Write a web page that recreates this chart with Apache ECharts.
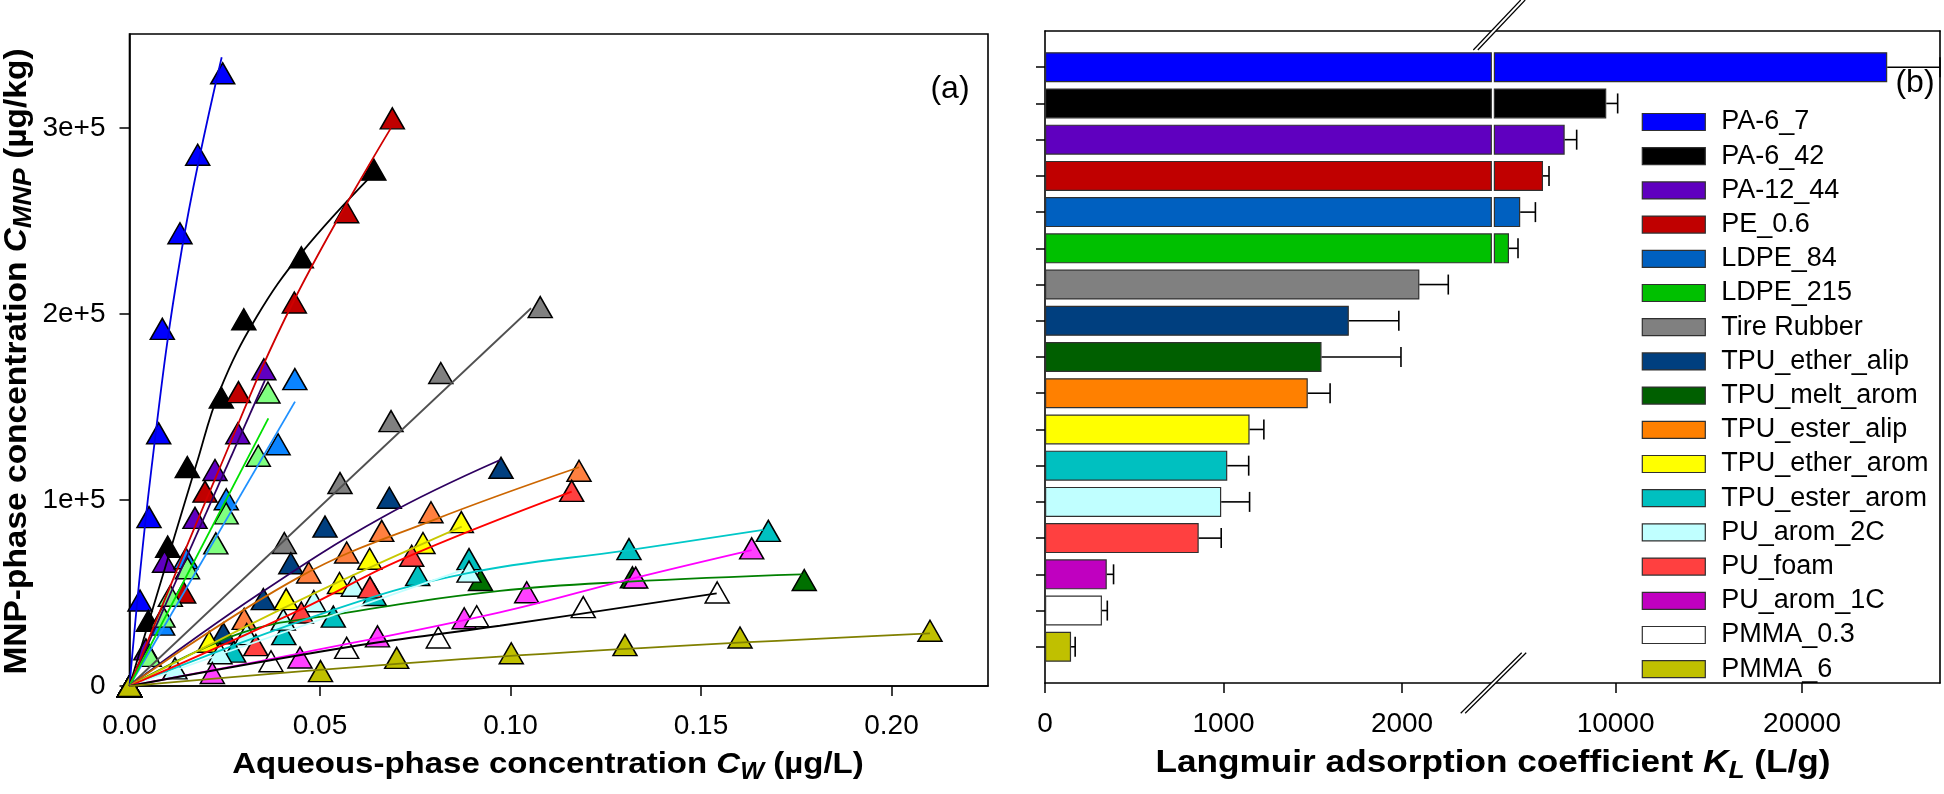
<!DOCTYPE html>
<html>
<head>
<meta charset="utf-8">
<script src="https://cdn.jsdelivr.net/npm/echarts@6/dist/echarts.min.js"></script>
<style>html,body{margin:0;padding:0;background:#fff}#c{width:1944px;height:794px}</style>
</head>
<body>
<div id="c"></div>
<script>
const FONT = '"Liberation Sans", Arial, Helvetica, sans-serif';

// ---------------- DATA ----------------
const materials = ['PA-6_7','PA-6_42','PA-12_44','PE_0.6','LDPE_84','LDPE_215','Tire Rubber','TPU_ether_alip','TPU_melt_arom','TPU_ester_alip','TPU_ether_arom','TPU_ester_arom','PU_arom_2C','PU_foam','PU_arom_1C','PMMA_0.3','PMMA_6'];

// Panel (a): measured isotherm points [Cw (µg/L), C_MNP (µg/kg)]
const data_PA6_7 = [[0,0],[0.00276,45970],[0.00512,90770],[0.00766,135800],[0.00861,192000],[0.01325,243400],[0.0179,285600],[0.02446,329400]];
const data_PA6_42 = [[0,0],[0.00494,35050],[0.01002,74900],[0.01517,117700],[0.0241,155100],[0.0300,197200],[0.0451,230500],[0.06412,277600]];
const data_PA12_44 = [[0,0],[0.0043,19700],[0.00919,66800],[0.01719,90400],[0.02244,116100],[0.02843,135900],[0.03526,170300]];
const data_PE06 = [[0,0],[0.01422,50270],[0.01982,104500],[0.0286,158000],[0.04326,206200],[0.0570,254700],[0.06898,305200]];
const data_LDPE84 = [[0,0],[0.0087,33000],[0.0148,68700],[0.0254,100400],[0.039,130000],[0.0434,165000]];
const data_LDPE215 = [[0,0],[0.00517,16200],[0.00879,37300],[0.01072,48500],[0.01522,63300],[0.02266,76700],[0.02537,92800],[0.0338,123800],[0.03634,157800]];
const data_Tire = [[0,0],[0.04063,76900],[0.05525,109100],[0.06864,142400],[0.0817,168300],[0.1078,203700]];
const data_TPU_ether_alip = [[0,0],[0.02462,28300],[0.03512,46700],[0.04234,66000],[0.05131,85700],[0.06819,101200],[0.09751,117300]];
const data_TPU_melt_arom = [[0,0],[0.09213,57000],[0.132,58400],[0.1771,57000]];
const data_TPU_ester_alip = [[0,0],[0.0301,36100],[0.04703,61000],[0.057,71800],[0.0662,83400],[0.07913,93400],[0.11798,115700]];
const data_TPU_ether_arom = [[0,0],[0.02091,23800],[0.04112,46700],[0.05512,55400],[0.06304,68400],[0.07703,76900],[0.08709,88100]];
const data_TPU_ester_arom = [[0,0],[0.02735,18500],[0.0405,27900],[0.05349,37300],[0.06425,48900],[0.07564,59700],[0.08911,68200],[0.1311,73600],[0.16767,83400]];
const data_PU_arom_2C = [[0,0],[0.01194,9500],[0.02375,17600],[0.03076,27900],[0.04037,35700],[0.04838,45600],[0.05874,53900],[0.08911,61500]];
const data_PU_foam = [[0,0],[0.03316,22000],[0.04509,39500],[0.06312,53000],[0.07407,70000],[0.11606,104900]];
const data_PU_arom_1C = [[0,0],[0.02174,7000],[0.04475,15300],[0.06509,26700],[0.08785,36400],[0.10425,50400],[0.13286,58300],[0.1633,74000]];
const data_PMMA_03 = [[0,0],[0.03714,13300],[0.057,20500],[0.08105,26100],[0.09113,37500],[0.1191,42400],[0.15425,50300]];
const data_PMMA_6 = [[0,0],[0.05013,8000],[0.07013,15100],[0.1002,17600],[0.13005,22000],[0.16024,26100],[0.2101,29700]];

// Panel (a): fitted Langmuir curves
const fit_PA6_7 = [[0,0],[0.00556,113400],[0.0137,234400],[0.0242,338000]];
const fit_PA6_42 = [[0,0],[0.01763,119700],[0.02375,159100],[0.03338,198500],[0.0452,233000],[0.06365,274700]];
const fit_PA12_44 = [[0,0],[0.03556,164500]];
const fit_PE06 = [[0,0],[0.02289,113400],[0.043,206600],[0.06856,299800]];
const fit_LDPE84 = [[0,0],[0.04344,152900]];
const fit_LDPE215 = [[0,0],[0.03644,143900]];
const fit_Tire = [[0,0],[0.1054,203100]];
const fit_TPU_ether_alip = [[0,0],[0.03425,49800],[0.06662,91000],[0.09724,121500]];
const fit_TPU_melt_arom = [[0,0],[0.029,28300],[0.0535,38200],[0.0972,51100],[0.1311,56100],[0.17643,60000]];
const fit_TPU_ester_alip = [[0,0],[0.04475,58800],[0.07974,89200],[0.11798,117600]];
const fit_TPU_ether_arom = [[0,0],[0.04475,46200],[0.0872,85700]];
const fit_TPU_ester_arom = [[0,0],[0.0535,40900],[0.0885,60600],[0.1311,73100],[0.16635,83900]];
const fit_PU_arom_2C = [[0,0],[0.0876,62400]];
const fit_PU_foam = [[0,0],[0.04475,40900],[0.071,67700],[0.11606,104500]];
const fit_PU_arom_1C = [[0,0],[0.04475,17600],[0.0972,39600],[0.1322,57900],[0.1633,73100]];
const fit_PMMA_03 = [[0,0],[0.05787,21100],[0.0972,32400],[0.15412,49800]];
const fit_PMMA_6 = [[0,0],[0.0972,15800],[0.2101,28300]];

// Panel (b): Langmuir adsorption coefficient K_L (L/g) and its error
const klValues = [24570, 9500, 7270, 6107, 4884, 4283, 2097, 1702, 1549, 1472, 1146, 1021, 987, 861, 346, 319, 146];
const klErrors = [2830, 611, 643, 322, 815, 483, 162, 280, 445, 125, 80, 120, 159, 126, 38, 30, 23];

// tick values
const xTicksA = [0, 0.05, 0.10, 0.15, 0.20];
const yTicksA = [0, 100000, 200000, 300000];
const xTicksLow = [0, 1000, 2000];
const xTicksHigh = [10000, 20000];

// ---------------- STYLES ----------------
const markerColors = ['#0000FF','#000000','#6000C0','#C00000','#0A84FF','#80FF80','#808080','#003F7F','#007000','#FF8040','#FFFF00','#00C0C0','#C0FFFF','#FF4040','#FF40FF','#FFFFFF','#C0C000'];
const lineColors = ['#0000E0','#000000','#2E0060','#D00000','#1E90FF','#00E000','#505050','#2E0060','#008000','#CC6600','#C8C800','#00C8C8','#C0FFFF','#FF0000','#FF00FF','#000000','#808000'];
const barColors = ['#0000FF','#000000','#5F00BF','#C00000','#0060C0','#00C000','#808080','#003F7F','#005F00','#FF8000','#FFFF00','#00C0C0','#C0FFFF','#FF4040','#C000C0','#FFFFFF','#C0C000'];

const isoData = [data_PA6_7,data_PA6_42,data_PA12_44,data_PE06,data_LDPE84,data_LDPE215,data_Tire,data_TPU_ether_alip,data_TPU_melt_arom,data_TPU_ester_alip,data_TPU_ether_arom,data_TPU_ester_arom,data_PU_arom_2C,data_PU_foam,data_PU_arom_1C,data_PMMA_03,data_PMMA_6];
const fitData = [fit_PA6_7,fit_PA6_42,fit_PA12_44,fit_PE06,fit_LDPE84,fit_LDPE215,fit_Tire,fit_TPU_ether_alip,fit_TPU_melt_arom,fit_TPU_ester_alip,fit_TPU_ether_arom,fit_TPU_ester_arom,fit_PU_arom_2C,fit_PU_foam,fit_PU_arom_1C,fit_PMMA_03,fit_PMMA_6];

const LOW_MAX = 2500, HIGH_MIN = 3500, HIGH_MAX = 27400;
const cats = [''].concat(materials, ['']);

const series = [];
materials.forEach((m, i) => {
  series.push({
    type: 'scatter', name: m + ' data', xAxisIndex: 0, yAxisIndex: 0,
    data: isoData[i], symbol: 'triangle', symbolSize: [24, 21],
    itemStyle: { color: markerColors[i], borderColor: '#000', borderWidth: 1.5, opacity: 1 },
    emphasis: { disabled: true }, silent: true
  });
  series.push({
    type: 'line', name: m + ' fit', xAxisIndex: 0, yAxisIndex: 0,
    data: fitData[i], smooth: 0.4, showSymbol: false, symbol: 'none',
    lineStyle: { color: lineColors[i], width: 1.8 }, emphasis: { disabled: true }, silent: true
  });
});

materials.forEach((m, i) => {
  const arr = cats.map((c, k) => (k === i + 1 ? klValues[i] : '-'));
  const common = {
    type: 'bar', name: m, data: arr, barWidth: 30, barGap: '-100%', clip: true,
    itemStyle: { color: barColors[i], borderColor: '#303030', borderWidth: 1.2 },
    emphasis: { disabled: true }, silent: true
  };
  series.push(Object.assign({ xAxisIndex: 1, yAxisIndex: 1 }, common));
  if (klValues[i] > HIGH_MIN) series.push(Object.assign({ xAxisIndex: 3, yAxisIndex: 2 }, common));
});

const errLow = [], errHigh = [];
materials.forEach((m, i) => {
  const d = [klValues[i], klErrors[i], i + 1];
  if (klValues[i] + klErrors[i] <= LOW_MAX) errLow.push(d); else errHigh.push(d);
});
function renderErr(params, api) {
  const v = api.value(0), e = api.value(1), yi = api.value(2);
  const p0 = api.coord([v, yi]), p1 = api.coord([v + e, yi]);
  return { type: 'group', children: [
    { type: 'line', shape: { x1: p0[0], y1: p0[1], x2: p1[0], y2: p1[1] }, style: { stroke: '#000', lineWidth: 1.6 } },
    { type: 'line', shape: { x1: p1[0], y1: p1[1] - 10, x2: p1[0], y2: p1[1] + 10 }, style: { stroke: '#000', lineWidth: 1.6 } }
  ]};
}
series.push({ type: 'custom', name: 'err-low', xAxisIndex: 1, yAxisIndex: 1, data: errLow, encode: { x: 0, y: 2 }, renderItem: renderErr, z: 5, silent: true });
series.push({ type: 'custom', name: 'err-high', xAxisIndex: 3, yAxisIndex: 2, data: errHigh, encode: { x: 0, y: 2 }, renderItem: renderErr, z: 5, silent: true });

const axLine = { show: true, onZero: false, lineStyle: { color: '#000', width: 1.6 } };
const tickStyle = { color: '#000', width: 1.5 };
const lblStyle = { color: '#000', fontFamily: FONT, fontSize: 28 };
const plain = v => String(v);

function richTitle(size, subSize) {
  return {
    n: { fontSize: size, fontWeight: 'bold', fontFamily: FONT, lineHeight: size + 4, verticalAlign: 'top', fill: '#000', color: '#000' },
    i: { fontSize: size, fontWeight: 'bold', fontStyle: 'italic', fontFamily: FONT, lineHeight: size + 4, verticalAlign: 'top', fill: '#000', color: '#000' },
    s: { fontSize: subSize, fontWeight: 'bold', fontStyle: 'italic', fontFamily: FONT, lineHeight: subSize - 2, verticalAlign: 'bottom', fill: '#000', color: '#000' }
  };
}
function txt(x, y, text, rich, opts) {
  return Object.assign({
    type: 'text', x: x, y: y, z: 50, silent: true,
    style: { x: 0, y: 0, text: text, rich: rich, fill: '#000', align: 'center', verticalAlign: 'middle', textAlign: 'center', textVerticalAlign: 'middle' }
  }, opts || {});
}
function slash(x0, y0, x1, y1, off) {
  return [
    { type: 'polygon', z: 60, silent: true, shape: { points: [[x0, y0], [x1, y1], [x1 + off, y1], [x0 + off, y0]] }, style: { fill: '#fff', stroke: null } },
    { type: 'line', z: 61, silent: true, shape: { x1: x0, y1: y0, x2: x1, y2: y1 }, style: { stroke: '#000', lineWidth: 1.2 } },
    { type: 'line', z: 61, silent: true, shape: { x1: x0 + off, y1: y0, x2: x1 + off, y2: y1 }, style: { stroke: '#000', lineWidth: 1.2 } }
  ];
}
const plainRich = { n: { fontSize: 32, fontFamily: FONT, fill: '#000', color: '#000' } };

const option = {
  animation: false,
  backgroundColor: '#fff',
  textStyle: { fontFamily: FONT },
  grid: [
    { left: 129.5, top: 34, right: 956, bottom: 108, show: true, borderColor: '#000', borderWidth: 1.6, backgroundColor: 'transparent', containLabel: false },
    { left: 1045, top: 31, width: 446.3, bottom: 111, containLabel: false },
    { left: 1494.4, top: 31, width: 445.6, bottom: 111, containLabel: false }
  ],
  xAxis: [
    { gridIndex: 0, type: 'value', min: 0, max: 0.22533, axisLine: axLine,
      axisTick: { show: true, customValues: xTicksA, length: 10, lineStyle: tickStyle },
      axisLabel: Object.assign({ customValues: xTicksA, margin: 26, formatter: v => v.toFixed(2) }, lblStyle),
      splitLine: { show: false } },
    { gridIndex: 1, type: 'value', position: 'bottom', min: 0, max: LOW_MAX, axisLine: axLine,
      axisTick: { show: true, customValues: xTicksLow, length: 10, lineStyle: tickStyle },
      axisLabel: Object.assign({ customValues: xTicksLow, margin: 27, formatter: plain }, lblStyle),
      splitLine: { show: false } },
    { gridIndex: 1, type: 'value', position: 'top', min: 0, max: LOW_MAX, axisLine: axLine,
      axisTick: { show: false }, axisLabel: { show: false }, splitLine: { show: false } },
    { gridIndex: 2, type: 'value', position: 'bottom', min: HIGH_MIN, max: HIGH_MAX, axisLine: axLine,
      axisTick: { show: true, customValues: xTicksHigh, length: 10, lineStyle: tickStyle },
      axisLabel: Object.assign({ customValues: xTicksHigh, margin: 27, formatter: plain }, lblStyle),
      splitLine: { show: false } },
    { gridIndex: 2, type: 'value', position: 'top', min: HIGH_MIN, max: HIGH_MAX, axisLine: axLine,
      axisTick: { show: false }, axisLabel: { show: false }, splitLine: { show: false } }
  ],
  yAxis: [
    { gridIndex: 0, type: 'value', min: 0, max: 350540, axisLine: axLine,
      axisTick: { show: true, customValues: yTicksA, length: 10, lineStyle: tickStyle },
      axisLabel: Object.assign({ customValues: yTicksA, margin: 24, formatter: v => (v === 0 ? '0' : (v / 100000) + 'e+5') }, lblStyle),
      splitLine: { show: false } },
    { gridIndex: 1, type: 'category', data: cats, inverse: true, boundaryGap: false, position: 'left', axisLine: axLine,
      axisTick: { show: true, length: 9, interval: (idx) => idx > 0 && idx < cats.length - 1, lineStyle: tickStyle },
      axisLabel: { show: false }, splitLine: { show: false } },
    { gridIndex: 2, type: 'category', data: cats, inverse: true, boundaryGap: false, position: 'right', axisLine: axLine,
      axisTick: { show: false }, axisLabel: { show: false }, splitLine: { show: false } }
  ],
  legend: {
    data: materials, orient: 'vertical', left: 1636.7, top: 103.5,
    itemWidth: 63, itemHeight: 17, itemGap: 7.2, icon: 'rect', selectedMode: false,
    itemStyle: { borderColor: '#303030', borderWidth: 1.2 },
    textStyle: { fontSize: 27, fontFamily: FONT, color: '#000', lineHeight: 26, padding: [0, 0, 0, 11] }
  },
  series: series,
  graphic: [
    txt(548, 767, '{n|Aqueous-phase concentration }{i|C}{s|W}{n| (µg/L)}', richTitle(30, 23), { scaleX: 1.1 }),
    txt(19, 361.5, '{n|MNP-phase concentration }{i|C}{s|MNP}{n| (µg/kg)}', richTitle(31, 25), { rotation: Math.PI / 2, scaleX: 1.08 }),
    txt(1493, 765, '{n|Langmuir adsorption coefficient }{i|K}{s|L}{n| (L/g)}', richTitle(32, 24), { scaleX: 1.1 }),
    txt(950, 89, '{n|(a)}', plainRich, {}),
    txt(1915, 83, '{n|(b)}', plainRich, {})
  ].concat(slash(1473.3, 50, 1520.7, 0, 4.5))
   .concat(slash(1460.7, 713.3, 1521.7, 652.7, 4.5))
};

const chart = echarts.init(document.getElementById('c'), null, { renderer: 'canvas' });
chart.setOption(option);
</script>
</body>
</html>
